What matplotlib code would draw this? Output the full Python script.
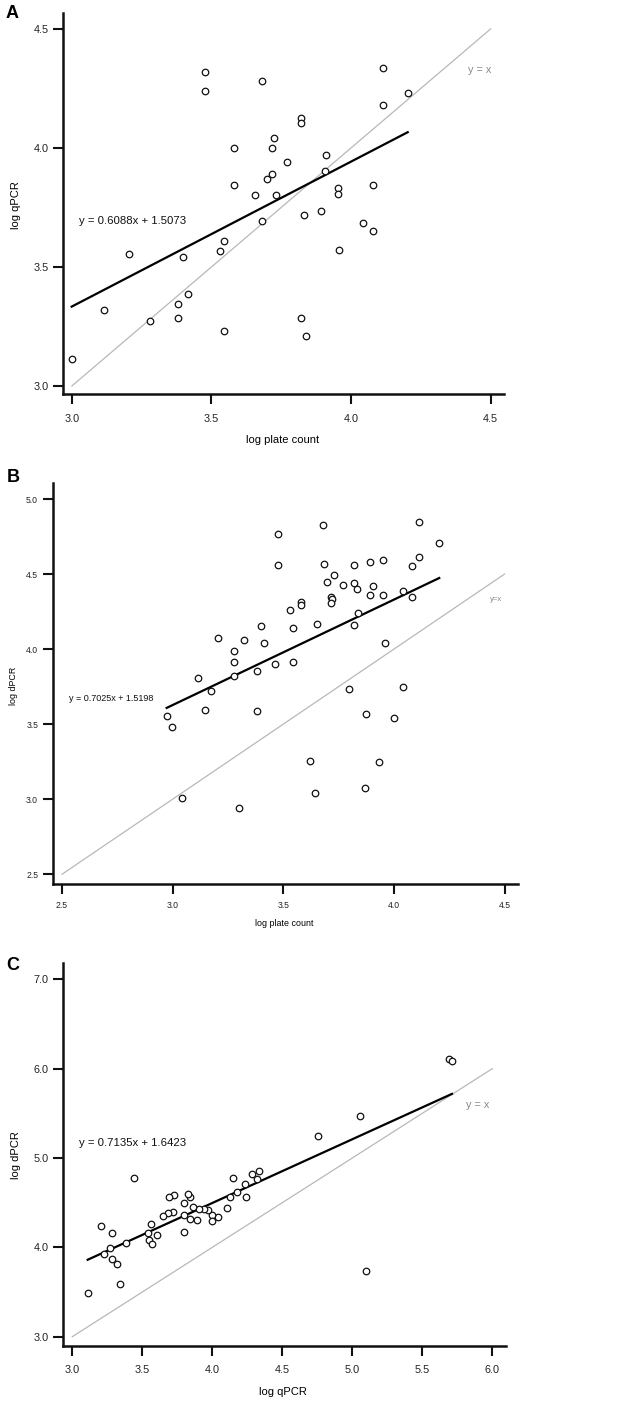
import matplotlib
matplotlib.use("Agg")
import matplotlib.pyplot as plt
import numpy as np

plt.rcParams['font.family'] = ['Liberation Sans', 'DejaVu Sans']

# ---------------- Panel A data: log plate count vs log qPCR ----------------
a_x = [3.477, 3.477, 3.682, 4.115, 4.203, 4.115, 3.820, 3.820, 3.723, 3.580,
       3.716, 3.909, 3.769, 3.716, 3.698, 3.908, 3.580, 3.655, 3.732, 3.954,
       3.954, 4.079, 3.832, 3.892, 3.682, 4.042, 4.079, 3.958, 3.544, 3.532,
       3.204, 3.398, 3.416, 3.380, 3.115, 3.280, 3.380, 3.820, 3.544, 3.838,
       2.999]
a_y = [4.318, 4.239, 4.283, 4.336, 4.232, 4.179, 4.125, 4.106, 4.041, 3.999,
       3.999, 3.971, 3.941, 3.891, 3.868, 3.903, 3.845, 3.801, 3.801, 3.831,
       3.806, 3.845, 3.720, 3.733, 3.693, 3.685, 3.653, 3.573, 3.609, 3.567,
       3.553, 3.542, 3.385, 3.345, 3.321, 3.273, 3.286, 3.286, 3.230, 3.210,
       3.115]
a_slope, a_icpt = 0.6088, 1.5073
a_eq = "y = 0.6088x + 1.5073"
a_id = "y = x"
a_xticks = [3.0, 3.5, 4.0, 4.5]
a_yticks = [3.0, 3.5, 4.0, 4.5]
a_xlabel = "log plate count"
a_ylabel = "log qPCR"
a_idline = [3.0, 4.5]

# ---------------- Panel B data: log plate count vs log dPCR ----------------
b_x = [3.477, 3.477, 3.679, 3.683, 3.697, 3.730, 3.768, 3.819, 3.819, 3.832,
       3.890, 3.952, 3.907, 3.890, 3.952, 4.113, 4.205, 4.113, 4.080, 4.042,
       4.080, 3.714, 3.721, 3.714, 3.579, 3.579, 3.532, 3.838, 3.399, 3.544,
       3.652, 3.819,
       3.205, 3.321, 3.413, 3.279, 3.279, 3.279, 3.380, 3.380, 3.461, 3.544,
       3.113, 3.175, 3.146, 2.973, 2.998, 3.960, 3.798, 4.041, 3.875, 3.999,
       3.622, 3.932,
       3.041, 3.301, 3.642, 3.869]
b_y = [4.765, 4.563, 4.827, 4.567, 4.449, 4.496, 4.425, 4.563, 4.439, 4.401,
       4.583, 4.592, 4.421, 4.361, 4.361, 4.845, 4.709, 4.614, 4.556, 4.390,
       4.345, 4.349, 4.332, 4.305, 4.312, 4.296, 4.263, 4.239, 4.152, 4.141,
       4.168, 4.163,
       4.074, 4.059, 4.041, 3.988, 3.916, 3.821, 3.852, 3.586, 3.899, 3.912,
       3.806, 3.723, 3.593, 3.557, 3.479, 4.041, 3.735, 3.750, 3.570, 3.543,
       3.255, 3.248,
       3.010, 2.940, 3.040, 3.075]
b_slope, b_icpt = 0.7025, 1.5198
b_eq = "y = 0.7025x + 1.5198"
b_id = "y=x"
b_xticks = [2.5, 3.0, 3.5, 4.0, 4.5]
b_yticks = [2.5, 3.0, 3.5, 4.0, 4.5, 5.0]
b_xlabel = "log plate count"
b_ylabel = "log dPCR"
b_idline = [2.5, 4.5]

# ---------------- Panel C data: log qPCR vs log dPCR ----------------
c_x = [5.693, 5.712, 5.053, 4.757, 3.439, 4.150, 4.284, 4.336, 4.319, 4.234,
       4.179, 4.124, 4.239, 4.105, 4.041, 3.996, 3.996, 3.969, 3.941, 3.905,
       3.891, 3.864, 3.843, 3.824, 3.800, 3.800, 3.841, 3.800, 3.726, 3.693,
       3.717, 3.686, 3.650, 3.565, 3.541, 3.550, 3.571, 3.607, 3.381, 3.286,
       3.207, 3.269, 3.226, 3.286, 3.317, 3.343, 3.110, 5.098]
c_y = [6.105, 6.083, 5.470, 5.246, 4.773, 4.780, 4.824, 4.851, 4.762, 4.709,
       4.616, 4.564, 4.564, 4.440, 4.336, 4.359, 4.298, 4.418, 4.429, 4.429,
       4.309, 4.455, 4.560, 4.597, 4.500, 4.362, 4.317, 4.168, 4.589, 4.567,
       4.399, 4.388, 4.351, 4.265, 4.164, 4.082, 4.041, 4.135, 4.045, 4.164,
       4.239, 3.996, 3.922, 3.866, 3.814, 3.590, 3.486, 3.735]
c_slope, c_icpt = 0.7135, 1.6423
c_eq = "y = 0.7135x + 1.6423"
c_id = "y = x"
c_xticks = [3.0, 3.5, 4.0, 4.5, 5.0, 5.5, 6.0]
c_yticks = [3.0, 4.0, 5.0, 6.0, 7.0]
c_xlabel = "log qPCR"
c_ylabel = "log dPCR"
c_idline = [3.0, 6.0]

W, H = 630, 1409
fig = plt.figure(figsize=(W / 100, H / 100), dpi=100)


def fx(px):
    return px / W


def fy(py):
    return 1 - py / H


def panel(rect, xs, ys, slope, icpt, eq, idtxt, idline, xticks, yticks,
          xlim, ylim, eqpos, idpos, fs_tick, fs_lab, fs_eq, fs_id,
          xpad, ypad, ms):
    l, t, r, b = rect
    ax = fig.add_axes([fx(l), fy(b), fx(r) - fx(l), fy(t) - fy(b)])
    ax.set_xlim(*xlim)
    ax.set_ylim(*ylim)
    for s in ['top', 'right']:
        ax.spines[s].set_visible(False)
    for s in ['left', 'bottom']:
        ax.spines[s].set_linewidth(1.8)
        ax.spines[s].set_color('#111111')
    ax.set_xticks(xticks)
    ax.set_yticks(yticks)
    ax.set_xticklabels([f"{v:.1f}" for v in xticks])
    ax.set_yticklabels([f"{v:.1f}" for v in yticks])
    ax.tick_params(axis='x', direction='out', length=7.5, width=1.5,
                   labelsize=fs_tick, pad=xpad, colors='#111111',
                   labelcolor='#222222')
    ax.tick_params(axis='y', direction='out', length=7.5, width=1.5,
                   labelsize=fs_tick, pad=ypad, colors='#111111',
                   labelcolor='#222222')
    # identity line
    ax.plot(idline, idline, color='#b8b8b8', lw=0.9, zorder=1)
    # regression line across data range
    xr = np.array([min(xs), max(xs)])
    ax.plot(xr, slope * xr + icpt, color='black', lw=1.6, zorder=2)
    ax.scatter(xs, ys, s=ms, facecolors='white', edgecolors='#111111',
               linewidths=0.9, zorder=3)
    ax.text(eqpos[0], eqpos[1], eq, ha='left', va='center',
            fontsize=fs_eq, color='#111111')
    ax.text(idpos[0], idpos[1], idtxt, ha='center', va='center',
            fontsize=fs_id, color='#888888')
    return ax


# Panel A
panel((63, 13, 504, 394), a_x, a_y, a_slope, a_icpt, a_eq, a_id, a_idline,
      a_xticks, a_yticks, (2.968, 4.548), (2.966, 4.567),
      (3.025, 3.693), (4.462, 4.328), 7.8, 8, 8.2, 7.8, 7, 3, 22)
fig.text(fx(283), fy(440), a_xlabel, ha='center', va='center', fontsize=8)
fig.text(fx(16), fy(205), a_ylabel, ha='center', va='center', fontsize=8,
         rotation=90)
fig.text(fx(12), fy(14), "A", ha='center', va='center', fontsize=13,
         fontweight='bold')

# Panel B
panel((52.7, 482.7, 518, 884), b_x, b_y, b_slope, b_icpt, b_eq, b_id, b_idline,
      b_xticks, b_yticks, (2.458, 4.561), (2.435, 5.109),
      (2.532, 3.670), (4.464, 4.332), 6.2, 6.4, 6.5, 5.5, 4.5, 3, 22)
fig.text(fx(284), fy(923), b_xlabel, ha='center', va='center', fontsize=6.4)
fig.text(fx(13), fy(686), b_ylabel, ha='center', va='center', fontsize=6.4,
         rotation=90)
fig.text(fx(13), fy(477), "B", ha='center', va='center', fontsize=13,
         fontweight='bold')

# Panel C
panel((63.3, 962.7, 506, 1346), c_x, c_y, c_slope, c_icpt, c_eq, c_id, c_idline,
      c_xticks, c_yticks, (2.936, 6.098), (2.896, 7.186),
      (3.048, 5.165), (5.898, 5.593), 7.8, 8, 8.2, 7.8, 6, 3, 22)
fig.text(fx(283), fy(1392), c_xlabel, ha='center', va='center', fontsize=8)
fig.text(fx(16), fy(1155), c_ylabel, ha='center', va='center', fontsize=8,
         rotation=90)
fig.text(fx(13), fy(965), "C", ha='center', va='center', fontsize=13,
         fontweight='bold')

fig.savefig("out.png", dpi=100)
